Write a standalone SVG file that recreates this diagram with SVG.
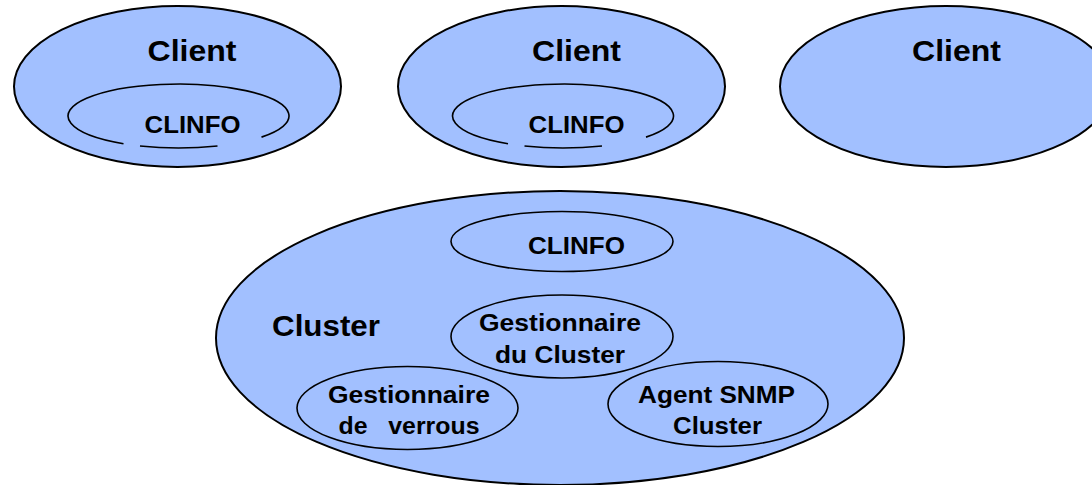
<svg xmlns="http://www.w3.org/2000/svg" width="1092" height="485" viewBox="0 0 1092 485">
<style>
.outer{fill:#A2C0FF;stroke:#000;stroke-width:2}
.inner{fill:none;stroke:#000;stroke-width:1.6}
.t{font-family:"Liberation Sans",Arial,sans-serif;font-weight:bold;fill:#000;text-anchor:middle}
.big{font-size:30px}
.mid{font-size:24px}
.sm{font-size:23px}
</style>
<rect width="1092" height="485" fill="#fff"/>
<g id="client1">
<ellipse class="outer" cx="177.5" cy="86.5" rx="163.5" ry="80.5"/>
<text class="t big" x="192" y="61" textLength="89" lengthAdjust="spacingAndGlyphs">Client</text>
</g>
<g id="client1-clinfo">
<path class="inner" d="M123.5,143.75 A110.5,32 0 1 1 261.5,137.13 M140,146 A110.5,32 0 0 0 217.5,145.94"/>
<text class="t mid" x="192.5" y="132.5" textLength="96" lengthAdjust="spacingAndGlyphs">CLINFO</text>
</g>
<g id="client2">
<ellipse class="outer" cx="561.5" cy="86.5" rx="163.5" ry="80.5"/>
<text class="t big" x="576.5" y="61" textLength="89" lengthAdjust="spacingAndGlyphs">Client</text>
</g>
<g id="client2-clinfo">
<path class="inner" d="M508,143.75 A110.5,32 0 1 1 646,137.13 M524.5,146 A110.5,32 0 0 0 602,145.94"/>
<text class="t mid" x="576.5" y="132.5" textLength="96" lengthAdjust="spacingAndGlyphs">CLINFO</text>
</g>
<g id="client3">
<ellipse class="outer" cx="946" cy="86.5" rx="166" ry="80.5"/>
<text class="t big" x="956.5" y="61" textLength="89" lengthAdjust="spacingAndGlyphs">Client</text>
</g>
<g id="cluster">
<ellipse class="outer" cx="560" cy="338" rx="344" ry="147"/>
<text class="t big" x="326" y="336" textLength="108" lengthAdjust="spacingAndGlyphs">Cluster</text>
</g>
<g id="cluster-clinfo">
<ellipse class="inner" cx="562" cy="241.5" rx="111" ry="30"/>
<text class="t mid" x="576.5" y="254" textLength="97" lengthAdjust="spacingAndGlyphs">CLINFO</text>
</g>
<g id="gestionnaire-cluster">
<ellipse class="inner" cx="562" cy="336.5" rx="111" ry="41.5"/>
<text class="t sm" x="560" y="330.5" textLength="162" lengthAdjust="spacingAndGlyphs">Gestionnaire</text>
<text class="t sm" x="560" y="362.5" textLength="130" lengthAdjust="spacingAndGlyphs">du Cluster</text>
</g>
<g id="gestionnaire-verrous">
<ellipse class="inner" cx="407.5" cy="408" rx="110.5" ry="41.5"/>
<text class="t sm" x="409" y="402.5" textLength="162" lengthAdjust="spacingAndGlyphs">Gestionnaire</text>
<text class="t sm" x="409" y="434" textLength="141" lengthAdjust="spacingAndGlyphs" xml:space="preserve" style="white-space:pre">de   verrous</text>
</g>
<g id="agent-snmp">
<ellipse class="inner" cx="718" cy="404" rx="110" ry="42.5"/>
<text class="t sm" x="716.5" y="402.5" textLength="157" lengthAdjust="spacingAndGlyphs">Agent SNMP</text>
<text class="t sm" x="717.5" y="434" textLength="89" lengthAdjust="spacingAndGlyphs">Cluster</text>
</g>
<g id="connectors"/>
</svg>
